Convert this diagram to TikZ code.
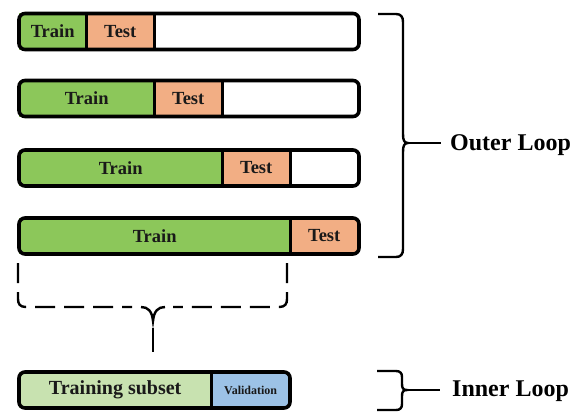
\documentclass[tikz,border=0pt]{standalone}
\usepackage{fontspec}
\setmainfont{Liberation Serif}
\begin{document}
\begin{tikzpicture}[x=1pt,y=-1pt,
  seg/.style={anchor=west,inner sep=0pt,minimum height=36pt,font=\bfseries\fontsize{18.5}{18.5}\selectfont,text=black!90},
  barbox/.style={draw=black,line width=3.6pt,rounded corners=6pt,inner sep=0pt,minimum height=36pt},
  divider/.style={line width=3pt,black},
  brace/.style={line width=2.4pt,black},
  dashbrace/.style={brace,dash pattern=on 20pt off 9pt},
  lbl/.style={anchor=west,inner sep=0pt,font=\bfseries\fontsize{24}{24}\selectfont}]
\definecolor{trainc}{HTML}{8CC75A}
\definecolor{testc}{HTML}{F2AE84}
\definecolor{subc}{HTML}{C8E2B0}
\definecolor{valc}{HTML}{9CC2E6}
\useasboundingbox (0,0) rectangle (585,412);
% row 1
\node[seg,fill=trainc,minimum width=67pt] (r1a) at (19,31.5) {Train};
\node[seg,fill=testc,minimum width=68pt] (r1b) at (86,31.5) {Test};
\node[barbox,minimum width=340pt] (r1) at (189,31.5) {};
\draw[divider] (r1a.north east) -- (r1a.south east);
\draw[divider] (r1b.north east) -- (r1b.south east);
% row 2
\node[seg,fill=trainc,minimum width=135pt] (r2a) at (19,98.5) {Train};
\node[seg,fill=testc,minimum width=68pt] (r2b) at (154,98.5) {Test};
\node[barbox,minimum width=340pt] (r2) at (189,98.5) {};
\draw[divider] (r2a.north east) -- (r2a.south east);
\draw[divider] (r2b.north east) -- (r2b.south east);
% row 3
\node[seg,fill=trainc,minimum width=203pt] (r3a) at (19,168) {Train};
\node[seg,fill=testc,minimum width=68pt] (r3b) at (222,168) {Test};
\node[barbox,minimum width=340pt] (r3) at (189,168) {};
\draw[divider] (r3a.north east) -- (r3a.south east);
\draw[divider] (r3b.north east) -- (r3b.south east);
% row 4
\node[seg,fill=trainc,minimum width=271pt] (r4a) at (19,236) {Train};
\node[seg,fill=testc,minimum width=68pt] (r4b) at (290,236) {Test};
\node[barbox,minimum width=340pt] (r4) at (189,236) {};
\draw[divider] (r4a.north east) -- (r4a.south east);
% inner bar
\node[seg,fill=subc,minimum width=192pt,font=\bfseries\fontsize{20}{20}\selectfont] (ia) at (19,390) {Training subset};
\node[seg,fill=valc,minimum width=79pt,font=\bfseries\fontsize{12}{12}\selectfont] (ib) at (211,390) {Validation};
\node[barbox,minimum width=271pt] (ibar) at (154.5,390) {};
\draw[divider] (ia.north east) -- (ia.south east);
% labels
\node[lbl] (outer) at (450,145) {Outer Loop};
\node[lbl] (inner) at (452,391) {Inner Loop};
% outer brace
\coordinate (otip) at (408,143);
\draw[brace] (378,14) -- (396,14) .. controls (401,14) and (403,17) .. (403,22) -- (403,134)
  .. controls (403,140) and (404,143) .. (otip)
  .. controls (404,143) and (403,146) .. (403,152) -- (403,249)
  .. controls (403,254) and (401,257) .. (396,257) -- (378,257);
\draw[brace] (otip) -- ([xshift=-9pt]outer.west |- otip);
% inner brace
\coordinate (itip) at (407,390);
\draw[brace] (377,371) -- (396,371) .. controls (400,371) and (402,373) .. (402,377) -- (402,384)
  .. controls (402,388) and (403,390) .. (itip)
  .. controls (403,390) and (402,392) .. (402,396) -- (402,404)
  .. controls (402,408) and (400,410) .. (396,410) -- (377,410);
\draw[brace] (itip) -- ([xshift=-12pt]inner.west |- itip);
% dashed under-brace
\coordinate (dtip) at (153,321);
\draw[dashbrace] (18,263) -- (18,299)
  .. controls (18,304) and (20,307) .. (26,307) -- (132,307);
\draw[dashbrace] (287,263) -- (287,299)
  .. controls (287,304) and (285,307) .. (279,307) -- (173,307);
\draw[brace] (141,307) .. controls (148,307) and (152,311) .. (dtip)
  .. controls (154,311) and (158,307) .. (165,307);
\coordinate (dlow) at (153,328);
\draw[brace] (dlow) -- (153,352);
\end{tikzpicture}
\end{document}
